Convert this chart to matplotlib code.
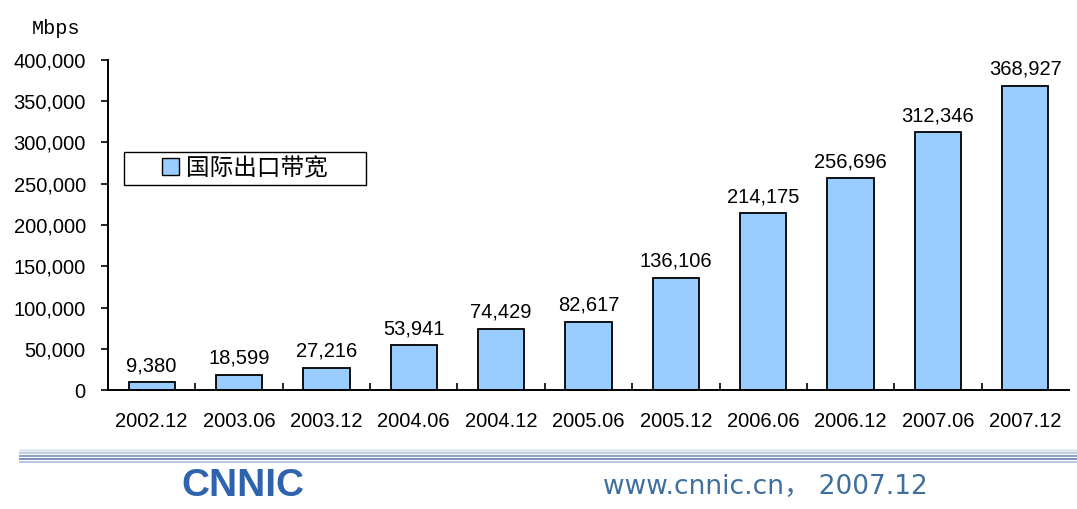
import matplotlib
matplotlib.use("Agg")
import matplotlib.pyplot as plt
from matplotlib.lines import Line2D
from matplotlib.patches import Patch, Rectangle
import numpy as np

# data
periods = ["2002.12", "2003.06", "2003.12", "2004.06", "2004.12", "2005.06",
           "2005.12", "2006.06", "2006.12", "2007.06", "2007.12"]
bandwidth = [9380, 18599, 27216, 53941, 74429, 82617,
             136106, 214175, 256696, 312346, 368927]
y_ticks = [0, 50000, 100000, 150000, 200000, 250000, 300000, 350000, 400000]
series_name = "国际出口带宽"

plt.rcParams["font.family"] = ["Liberation Sans", "DejaVu Sans"]

fig = plt.figure(figsize=(10.77, 5.09), dpi=100)
ax = fig.add_axes([108 / 1077, 119 / 509, 961 / 1077, 330 / 509])

x = np.arange(len(periods))
ax.bar(x, bandwidth, width=0.53, color="#99CCFF", edgecolor="black", linewidth=1.3)

for xi, v in zip(x, bandwidth):
    ax.annotate(f"{v:,}", (xi, v), xytext=(0, 5), textcoords="offset points",
                ha="center", va="bottom", fontsize=14.5)

ax.set_xlim(-0.5, len(periods) - 0.5)
ax.set_ylim(0, 400000)
ax.set_yticks(y_ticks)
ax.set_yticklabels([f"{t:,}" for t in y_ticks], fontsize=14.5)
ax.set_xticks(x)
ax.set_xticklabels(periods, fontsize=14.5)
ax.tick_params(axis="x", length=0, pad=16)
ax.set_xticks(np.arange(0.5, len(periods) - 1, 1), minor=True)
ax.tick_params(axis="x", which="minor", direction="in", length=5, width=1.2)
ax.tick_params(axis="y", direction="out", length=5, width=1.2, pad=11)

for side in ["top", "right"]:
    ax.spines[side].set_visible(False)
ax.spines["left"].set_linewidth(1.4)
ax.spines["bottom"].set_linewidth(1.4)

# legend: wide box drawn by hand, entry centered inside
box_x, box_y, box_w, box_h = 16 / 961, 205 / 330, 242 / 961, 33 / 330
ax.add_patch(Rectangle((box_x, box_y), box_w, box_h, transform=ax.transAxes,
                       facecolor="white", edgecolor="black", linewidth=1.0, zorder=5))
handle = Patch(facecolor="#99CCFF", edgecolor="black", linewidth=1.0)
leg = ax.legend([handle], [series_name], loc="center",
                bbox_to_anchor=(box_x + box_w / 2, box_y + box_h / 2),
                prop={"family": ["Noto Sans CJK SC", "DejaVu Sans"], "size": 17},
                frameon=False, handlelength=0.7, handleheight=0.7,
                handletextpad=0.3, borderpad=0, borderaxespad=0)
leg.set_zorder(6)

fig.text(32 / 1077, 1 - 28 / 509, "Mbps", fontsize=14.5,
         family=["Liberation Mono", "DejaVu Sans Mono"], va="center", ha="left")

# footer decoration
footer_lines = [(450, "#e1e7f2", 2.0), (453, "#c3cfe5", 1.5), (456, "#8fa3c6", 1.5),
                (459, "#6f87b0", 1.3), (462, "#b3c1da", 1.3)]
for ypix, col, lw in footer_lines:
    fig.add_artist(Line2D([20 / 1077, 1.0], [1 - ypix / 509, 1 - ypix / 509],
                          transform=fig.transFigure, color=col, linewidth=lw))

fig.text(243 / 1077, 1 - 486 / 509, "CNNIC", fontsize=28, fontweight="bold",
         color="#2f63ad", ha="center", va="center", family="Liberation Sans")
fig.text(765 / 1077, 1 - 487 / 509, "www.cnnic.cn， 2007.12", fontsize=19,
         color="#3f6f9f", ha="center", va="center",
         family=["DejaVu Sans", "Noto Sans CJK SC"])

fig.savefig("out.png", dpi=100)
